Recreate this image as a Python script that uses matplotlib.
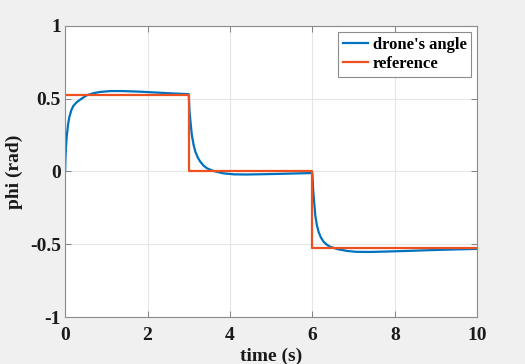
import numpy as np
import matplotlib.pyplot as plt

# reference step signal (rad)
ref_t = [0, 3, 3, 6, 6, 10]
ref_phi = [0.5236, 0.5236, 0.0, 0.0, -0.5236, -0.5236]

# drone response
drone_t = [0, 0.01, 0.02, 0.04, 0.07, 0.1, 0.15, 0.2, 0.28, 0.4, 0.53, 0.7,
           0.85, 1.1, 1.4, 1.8, 2.2, 2.6, 3.0,
           3.01, 3.02, 3.04, 3.075, 3.12, 3.16, 3.22, 3.28, 3.36, 3.44, 3.6,
           3.84, 4.1, 4.4, 4.8, 5.3, 5.7, 6.0,
           6.01, 6.02, 6.04, 6.07, 6.11, 6.15, 6.2, 6.27, 6.35, 6.43, 6.6,
           6.84, 7.06, 7.4, 7.8, 8.3, 8.8, 9.4, 10.0]
drone_phi = [0.0, 0.1, 0.16, 0.24, 0.32, 0.37, 0.42, 0.45, 0.475, 0.50, 0.524, 0.538,
             0.546, 0.552, 0.552, 0.548, 0.542, 0.536, 0.531,
             0.47, 0.41, 0.35, 0.25, 0.18, 0.136, 0.095, 0.067, 0.04, 0.022, 0.003,
             -0.013, -0.02, -0.021, -0.019, -0.016, -0.013, -0.011,
             -0.07, -0.13, -0.2, -0.30, -0.37, -0.414, -0.45, -0.482, -0.503, -0.517, -0.533,
             -0.546, -0.552, -0.553, -0.55, -0.546, -0.541, -0.536, -0.532]

plt.rcParams['font.family'] = 'Liberation Serif'
plt.rcParams['font.weight'] = 'bold'

fig = plt.figure(figsize=(5.25, 3.64), dpi=100, facecolor='#f0f0f0')
ax = fig.add_axes([0.124, 0.129, 0.785, 0.8])

ax.plot(drone_t, drone_phi, color='#0072BD', lw=1.6, label="drone's angle")
ax.plot(ref_t, ref_phi, color='#EE5020', lw=1.6, label='reference')

ax.set_xlim(0, 10)
ax.set_ylim(-1, 1)
ax.set_xticks([0, 2, 4, 6, 8, 10])
ax.set_yticks([-1, -0.5, 0, 0.5, 1])
ax.set_yticklabels(['-1', '-0.5', '0', '0.5', '1'])
ax.grid(True, color='#e6e6e6', lw=0.8)
ax.set_axisbelow(True)
ax.tick_params(direction='in', top=True, right=True, length=4, width=0.7,
               color='#808080', labelsize=14, labelcolor='#1a1a1a', pad=3)
ax.tick_params(axis='x', pad=7.5)
for s in ax.spines.values():
    s.set_color('#8c8c8c')
    s.set_linewidth(0.8)

ax.set_xlabel('time (s)', fontsize=14, fontweight='bold', labelpad=2.5, color='#1a1a1a')
ax.set_ylabel('phi (rad)', fontsize=14, fontweight='bold', labelpad=5, color='#1a1a1a')

leg = ax.legend(loc='upper right', fontsize=12, fancybox=False, framealpha=1,
                edgecolor='#8c8c8c', handlelength=1.5, handletextpad=0.3,
                borderpad=0.3, labelspacing=0.2, borderaxespad=0.35)
leg.get_frame().set_linewidth(0.8)
for t in leg.get_texts():
    t.set_fontweight('bold')

fig.savefig('out.png', dpi=100, facecolor=fig.get_facecolor())
